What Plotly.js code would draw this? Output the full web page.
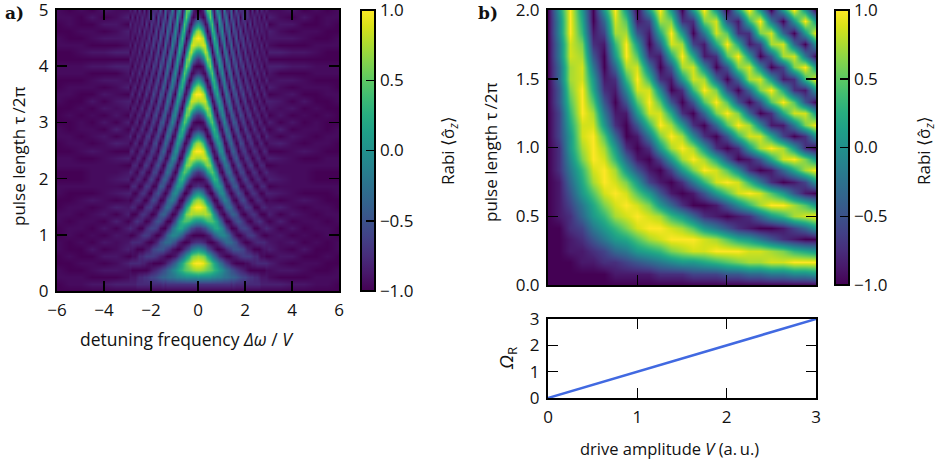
<!DOCTYPE html>
<html><head><meta charset="utf-8">
<script src="https://cdn.plot.ly/plotly-3.0.1.min.js"></script>
<style>html,body{margin:0;padding:0;background:#fff}#chart{width:942px;height:468px}</style>
</head><body><div id="chart"></div>
<script>
// Panel a: one string per detuning value (right half; the picture is mirror symmetric).
// Each character is a base-36 level from 0 (= -1) to z (= +1), one per pulse length.
const detuningHalf = [0,0.1,0.2,0.3,0.4,0.5,0.6,0.7,0.8,0.9,1,1.1,1.2,1.3,1.4,1.5,1.6,1.7,1.8,1.9,2,2.1,2.2,2.3,2.4,2.5,2.6,2.7,2.8,2.9,3,3.5,4,4.5,5,5.5,6];
const pulseA = [0,0.125,0.25,0.375,0.5,0.625,0.75,0.875,1,1.125,1.25,1.375,1.5,1.625,1.75,1.875,2,2.125,2.25,2.375,2.5,2.625,2.75,2.875,3,3.125,3.25,3.375,3.5,3.625,3.75,3.875,4,4.125,4.25,4.375,4.5,4.625,4.75,4.875,5];
const levelsA = [
"05iuzui505iuzui505iuzui505iuzui505iuzui50",
"05huzth505iuzth406juztg406jvzsg407jvysf30",
"05htysf407kuxqd319mwxob21aowwm912dpxvk703",
"05hswqd318mvvl813dqwsh505hswqd219mvvl813d",
"05hrum912bouqf406jttl802dpupd308ltsj603fq",
"05hqri604fpsk803dosma12bnsoc219lspe307jrq",
"05gpoe407hpnd308jqmb21akqla12bmqj802dnph7",
"05gnlb21aknh604fnmc218jni703dmmd307inj812",
"05flh703dlja11ajld307hlf505flh703dlja11aj",
"05fje405fje406fjd307gjd307gjc307hjb218hjb",
"05ehb218gg812bhe505ehb218gg803bhd505eha21",
"05df812agc307fe604cg9119gd405ef702bgb218f",
"05dd604ce703be812ae9119ea218eb307ec306dc4",
"05cb406cb307da218d9119d812ad703bd604bc504",
"04b9217c702ab405b9218c703ab406c9218c603ab",
"05b8129a405b7129a306b603a9217b504a8118a40",
"04a603981189306a405a603981289217a405a6039",
"04950495049603960396028712871287128811782",
"04840583068216711771286028603850484058305",
"04730671275038405721661275048305711760374",
"04721650373066027305611740472165037305612",
"04611630561263055036216404611640461263055",
"04502621640450361163055036116305503612620",
"04503512621530540450351261152053044035025",
"04403403503502512511511521520530530430440",
"04404404304304304304304204205205215215215",
"04304204215114124034034043042042141141240",
"03204114124033042141140230320411412403304",
"03204124032041140330411402304214023032141",
"03214023041130321402304113032040230311403",
"03113032130321303203022030230312303123031",
"03021211203030212112030302121120303021211",
"02020202020211111111112020202020202020202",
"02011020101102011110201101020110202011020",
"01101001011011010010110110100101101101001",
"01100100110110010011011001001101100100110",
"00110011001100110011001100011001100110011"
];
// Panel b: one string per pulse length, hex level 0 (= -1) to f (= +1), one per drive amplitude.
const driveB = [0,0.125,0.25,0.375,0.5,0.625,0.75,0.875,1,1.125,1.25,1.375,1.5,1.625,1.75,1.875,2,2.125,2.25,2.375,2.5,2.625,2.75,2.875,3];
const pulseB = [0,0.0833,0.1667,0.25,0.3333,0.4167,0.5,0.5833,0.6667,0.75,0.8333,0.9167,1,1.0833,1.1667,1.25,1.3333,1.4167,1.5,1.5833,1.6667,1.75,1.8333,1.9167,2];
const levelsB = [
"0000000000000000000000000",
"0000001111222333445566778",
"000112234567889abcddeefff",
"0011235689acdeefffeedca98",
"00124689bdefffedb98642100",
"002368aceffedb86421001358",
"01258adefeda852101258adef",
"01369cefec85200147adffdb8",
"0148befeb8410148befeb8410",
"0159dfec831026aefea620138",
"026aefd841038cfeb720159df",
"027cfea51038dfd940149efc8",
"028dfd82028dfd82028dfd820",
"038efb5016cfd7204aee93028",
"039ee8204afd8205bfd7116cf",
"03afd6118ee9205cfc5029ee8",
"04bfb404bfb404bfb404bfb40",
"04cf9217ee702afc405cf9218",
"05de812afa218ed505de812af",
"05de605de604de704ce703cf8",
"06ed408fb219f912bf804de60",
"06ec21af805ed319f913de508",
"07fa13dd419f806eb22ce508f",
"07f905eb13dc22ce41af608f8",
"08f808f808f808f808f808f80"
];
// Panel b, lower plot: Rabi frequency against drive amplitude.
const driveLine = [0,3];
const rabiFreq = [0,3];
const cbTicks = [-1,-0.5,0,0.5,1];

const toZ = (ch, top) => -1 + 2 * parseInt(ch, 36) / top;
const mirrored = detuningHalf.slice(1).reverse().map(d => -d);
const detuning = mirrored.concat(detuningHalf);
const zA = pulseA.map((_, i) => {
  const right = levelsA.map(col => toZ(col[i], 35));
  return right.slice(1).reverse().concat(right);
});
const zB = levelsB.map(row => row.split('').map(c => toZ(c, 15)));

const W = 942, H = 468;
const fx = p => p / W, fy = p => 1 - p / H;
const FONT = '"Open Sans", "Noto Sans", sans-serif';
const tf = {family: FONT, size: 17, color: '#111'};
const axisBase = {showgrid:false, zeroline:false, ticks:'inside', ticklen:10, tickwidth:1.5, tickcolor:'#000',
  showline:true, linecolor:'#000', linewidth:2, mirror:'ticks', tickfont:tf, layer:'above traces',
  ticklabeloverflow:'allow', ticklabelstandoff:3};
const cb = (x, top, bottom) => ({x:fx(x), xanchor:'left', xpad:0, ypad:0, y:fy(bottom), yanchor:'bottom',
  len:(bottom-top)/H, lenmode:'fraction', thickness:14, thicknessmode:'pixels', outlinewidth:2, outlinecolor:'#000',
  ticks:'inside', ticklen:10, tickwidth:1.5, tickcolor:'#000', tickvals:cbTicks, ticktext:['−1.0','−0.5','0.0','0.5','1.0'],
  tickfont:tf, bgcolor:'rgba(0,0,0,0)', ticklabeloverflow:'allow'});

const traces = [
 {type:'heatmap', x:detuning, y:pulseA, z:zA, zmin:-1, zmax:1, zsmooth:'best', colorscale:'Viridis',
  xaxis:'x', yaxis:'y', colorbar:cb(361, 10, 291), hoverinfo:'skip'},
 {type:'heatmap', x:driveB, y:pulseB, z:zB, zmin:-1, zmax:1, zsmooth:'best', colorscale:'Viridis',
  xaxis:'x2', yaxis:'y2', colorbar:cb(835, 10, 285), hoverinfo:'skip'},
 {type:'scatter', mode:'lines', x:driveLine, y:rabiFreq, line:{color:'#4169e1', width:2.5},
  xaxis:'x3', yaxis:'y3', showlegend:false, hoverinfo:'skip'}
];
const ann = (text, x, y, extra) => Object.assign({text, x:fx(x), y:fy(y), xref:'paper', yref:'paper',
  xanchor:'center', yanchor:'middle', showarrow:false, font:{family:FONT, size:17, color:'#111'}}, extra||{});
const layout = {
  width:W, height:H, margin:{l:0,r:0,t:0,b:0}, paper_bgcolor:'#fff', plot_bgcolor:'#fff', showlegend:false,
  xaxis:Object.assign({}, axisBase, {domain:[fx(57), fx(339)], range:[-6,6], tickvals:[-6,-4,-2,0,2,4,6], anchor:'y'}),
  yaxis:Object.assign({}, axisBase, {domain:[fy(291), fy(10)], range:[0,5], tickvals:[0,1,2,3,4,5], anchor:'x'}),
  xaxis2:Object.assign({}, axisBase, {domain:[fx(548), fx(816)], range:[0,3], tickvals:[1,2], showticklabels:false, anchor:'y2'}),
  yaxis2:Object.assign({}, axisBase, {domain:[fy(285), fy(10)], range:[0,2], tickvals:[0,0.5,1,1.5,2], ticktext:['0.0','0.5','1.0','1.5','2.0'], anchor:'x2'}),
  xaxis3:Object.assign({}, axisBase, {domain:[fx(548), fx(816)], range:[0,3], tickvals:[0,1,2,3], anchor:'y3'}),
  yaxis3:Object.assign({}, axisBase, {domain:[fy(398), fy(319)], range:[0,3], tickvals:[0,1,2,3], anchor:'x3'}),
  annotations:[
    ann('<b>a)</b>', 14, 13, {font:{family:'"DejaVu Serif", serif', size:17, color:'#111'}}),
    ann('<b>b)</b>', 488, 13, {font:{family:'"DejaVu Serif", serif', size:17, color:'#111'}}),
    ann('pulse length τ\u2009/2π', 19, 157, {textangle:-90}),
    ann('pulse length τ\u2009/2π', 491, 153, {textangle:-90}),
    ann('detuning frequency <i>Δω</i>\u00a0/\u00a0<i>V</i>', 187, 339, {font:{family:FONT, size:17.5, color:'#111'}}),
    ann('drive amplitude <i>V</i> (a.\u2009u.)', 669, 448, {font:{family:FONT, size:16.5, color:'#111'}}),
    ann('<i>Ω</i><sub>R</sub>', 507, 359, {textangle:-90, font:{family:FONT, size:19, color:'#111'}}),
    ann('Rabi ⟨σ̂<sub><i>z</i></sub>⟩', 449, 151, {textangle:-90}),
    ann('Rabi ⟨σ̂<sub><i>z</i></sub>⟩', 925, 151, {textangle:-90})
  ]
};
Plotly.newPlot('chart', traces, layout, {displayModeBar:false, staticPlot:true});
</script></body></html>
